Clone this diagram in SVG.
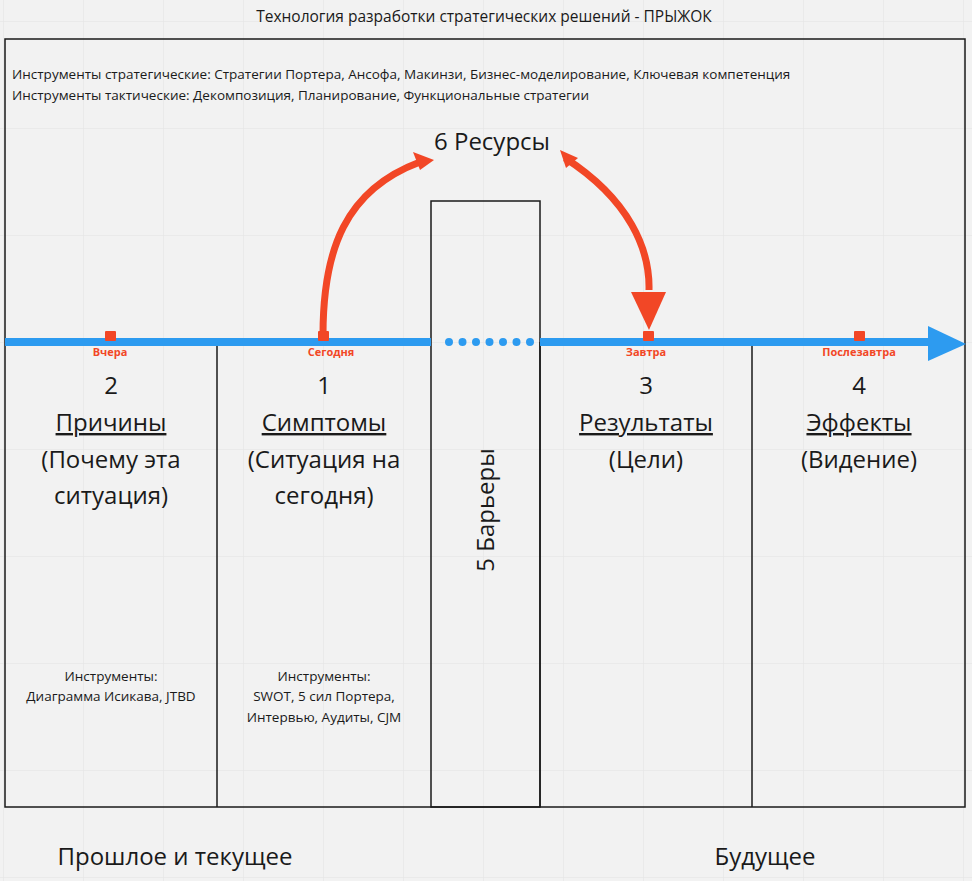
<svg xmlns="http://www.w3.org/2000/svg" width="972" height="881" viewBox="0 0 972 881">
<defs>
<style>
.t{font-family:"Open Sans","Noto Sans",sans-serif;fill:#1a1a1a}
.big{font-size:24px;text-anchor:middle}
.sm{font-size:13.5px}
.lbl{font-family:"Open Sans",sans-serif;font-size:11px;font-weight:bold;fill:#f24726;text-anchor:middle}
.g{stroke:#e4e4e4;stroke-width:1}
.box{fill:none;stroke:#1a1a1a;stroke-width:1.5}
</style>
<pattern id="grid" width="80" height="107" patternUnits="userSpaceOnUse" x="3" y="21">
<path d="M0 0V107M0 0H80" fill="none" stroke="#e2e2e2" stroke-width="1"/>
</pattern>
</defs>
<rect width="972" height="881" fill="#f2f2f2"/>
<rect width="972" height="881" fill="url(#grid)"/>
<text class="t" x="484" y="22" font-size="15.5" text-anchor="middle">Технология разработки стратегических решений - ПРЫЖОК</text>
<rect x="5" y="39" width="960" height="768" class="box"/>
<text class="t sm" x="12" y="79">Инструменты стратегические: Стратегии Портера, Ансофа, Макинзи, Бизнес-моделирование, Ключевая компетенция</text>
<text class="t sm" x="12" y="100">Инструменты тактические: Декомпозиция, Планирование, Функциональные стратегии</text>
<g id="n2">
<line x1="217" y1="342" x2="217" y2="807" class="box"/>
<text class="t big" x="111" y="394">2</text>
<text class="t big" x="111" y="431" text-decoration="underline">Причины</text>
<text class="t big" x="111" y="468">(Почему эта</text>
<text class="t big" x="111" y="504">ситуация)</text>
<text class="t sm" x="111" y="681" text-anchor="middle">Инструменты:</text>
<text class="t sm" x="111" y="701" text-anchor="middle">Диаграмма Исикава, JTBD</text>
</g>
<g id="n1">
<text class="t big" x="324" y="394">1</text>
<text class="t big" x="324" y="431" text-decoration="underline">Симптомы</text>
<text class="t big" x="324" y="468">(Ситуация на</text>
<text class="t big" x="324" y="504">сегодня)</text>
<text class="t sm" x="324" y="681" text-anchor="middle">Инструменты:</text>
<text class="t sm" x="324" y="701" text-anchor="middle">SWOT, 5 сил Портера,</text>
<text class="t sm" x="324" y="722" text-anchor="middle">Интервью, Аудиты, CJM</text>
</g>
<g id="n5">
<rect x="431" y="201" width="109" height="606" class="box" stroke-width="1.2"/>
<text class="t" font-size="24" transform="translate(494,510) rotate(-90)" text-anchor="middle">5 Барьеры</text>
</g>
<g id="n3">
<line x1="540" y1="342" x2="540" y2="807" class="box"/>
<line x1="752" y1="342" x2="752" y2="807" class="box"/>
<text class="t big" x="646" y="394">3</text>
<text class="t big" x="646" y="431" text-decoration="underline">Результаты</text>
<text class="t big" x="646" y="468">(Цели)</text>
</g>
<g id="n4">
<text class="t big" x="859" y="394">4</text>
<text class="t big" x="859" y="431" text-decoration="underline">Эффекты</text>
<text class="t big" x="859" y="468">(Видение)</text>
</g>
<g id="connectors">
<line x1="5" y1="342" x2="431" y2="342" stroke="#2d9bf0" stroke-width="8"/>
<line x1="449" y1="342" x2="531" y2="342" stroke="#2d9bf0" stroke-width="8" stroke-linecap="round" stroke-dasharray="0 13.5"/>
<line x1="540" y1="342" x2="932" y2="342" stroke="#2d9bf0" stroke-width="8"/>
<polygon points="928,326 966,344 928,361" fill="#2d9bf0"/>
<rect x="105" y="331" width="11" height="10" fill="#f24726" rx="1"/>
<rect x="318" y="331" width="11" height="10" fill="#f24726" rx="1"/>
<rect x="643" y="331" width="11" height="10" fill="#f24726" rx="1"/>
<rect x="854" y="331" width="11" height="10" fill="#f24726" rx="1"/>
<text class="lbl" x="110" y="356">Вчера</text>
<text class="lbl" x="331" y="356">Сегодня</text>
<text class="lbl" x="646" y="356">Завтра</text>
<text class="lbl" x="859" y="356">Послезавтра</text>
<path d="M323 335 C323 250 345 190 420 162" fill="none" stroke="#f24726" stroke-width="7"/>
<polygon points="413,152 434,160 420,170" fill="#f24726" transform="rotate(0)"/>
<path d="M565 158 C630 200 650 250 649 290" fill="none" stroke="#f24726" stroke-width="7"/>
<polygon points="560,150 578,158 566,168" fill="#f24726"/>
<polygon points="631,292 666,292 649,330" fill="#f24726"/>
<text class="t" x="492" y="150" font-size="24" text-anchor="middle">6 Ресурсы</text>
</g>
<text class="t" x="175" y="865" font-size="24" text-anchor="middle">Прошлое и текущее</text>
<text class="t" x="765" y="865" font-size="24" text-anchor="middle">Будущее</text>
</svg>
